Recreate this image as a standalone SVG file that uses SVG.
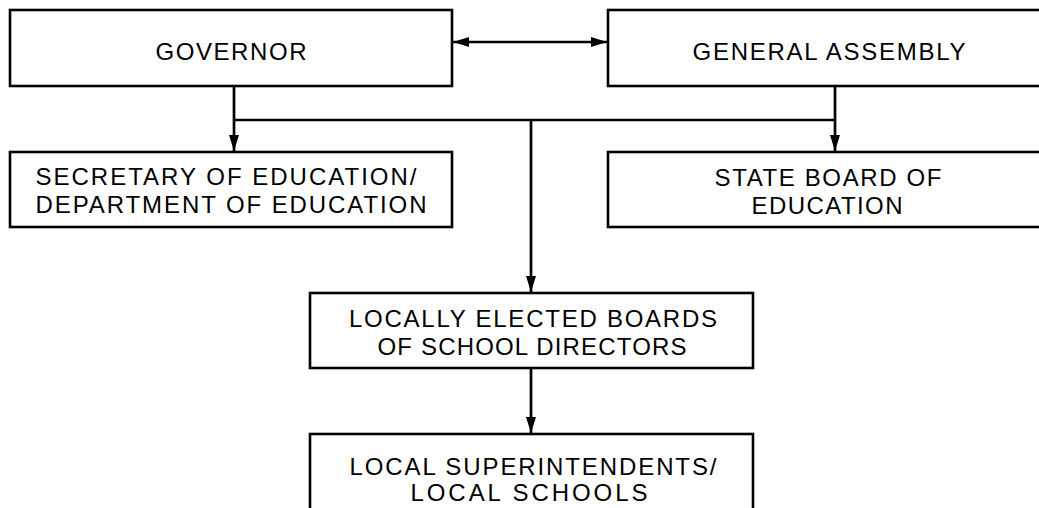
<svg xmlns="http://www.w3.org/2000/svg" width="1039" height="508" viewBox="0 0 1039 508">
<defs>
<marker id="ah" viewBox="0 0 16 10" refX="16" refY="5" markerWidth="16" markerHeight="10" markerUnits="userSpaceOnUse" orient="auto-start-reverse">
<path d="M0,0 L16,5 L0,10 Z" fill="#000"/>
</marker>
<style>
.box{fill:#fff;stroke:#000;stroke-width:2.6}
.t{font-family:"Liberation Sans",Arial,sans-serif;font-size:24px;fill:#000;text-anchor:middle}
.c{fill:none;stroke:#000;stroke-width:2.7}
</style>
</defs>
<rect width="1039" height="508" fill="#fff"/>
<g id="governor">
<rect class="box" x="10" y="10" width="442" height="76"/>
<text class="t" x="231" y="60" textLength="151" lengthAdjust="spacing">GOVERNOR</text>
</g>
<g id="general-assembly">
<rect class="box" x="608" y="10" width="440" height="76"/>
<text class="t" x="829" y="60" textLength="273" lengthAdjust="spacing">GENERAL ASSEMBLY</text>
</g>
<g id="secretary">
<rect class="box" x="10" y="152" width="442" height="75"/>
<text class="t" x="226" y="185" textLength="381" lengthAdjust="spacing">SECRETARY OF EDUCATION/</text>
<text class="t" x="231" y="213" textLength="391" lengthAdjust="spacing">DEPARTMENT OF EDUCATION</text>
</g>
<g id="state-board">
<rect class="box" x="608" y="152" width="440" height="75"/>
<text class="t" x="828" y="186" textLength="227" lengthAdjust="spacing">STATE BOARD OF</text>
<text class="t" x="827" y="214" textLength="151" lengthAdjust="spacing">EDUCATION</text>
</g>
<g id="local-boards">
<rect class="box" x="310" y="293" width="443" height="75"/>
<text class="t" x="533" y="327" textLength="368" lengthAdjust="spacing">LOCALLY ELECTED BOARDS</text>
<text class="t" x="532" y="355" textLength="309" lengthAdjust="spacing">OF SCHOOL DIRECTORS</text>
</g>
<g id="local-superintendents">
<rect class="box" x="310" y="434" width="443" height="90"/>
<text class="t" x="533" y="475" textLength="367" lengthAdjust="spacing">LOCAL SUPERINTENDENTS/</text>
<text class="t" x="529" y="501" textLength="237" lengthAdjust="spacing">LOCAL SCHOOLS</text>
</g>
<g id="connectors">
<line class="c" x1="453" y1="42" x2="607" y2="42" marker-start="url(#ah)" marker-end="url(#ah)"/>
<line class="c" x1="234" y1="86" x2="234" y2="151" marker-end="url(#ah)"/>
<line class="c" x1="835" y1="86" x2="835" y2="151" marker-end="url(#ah)"/>
<line class="c" x1="234" y1="120" x2="835" y2="120"/>
<line class="c" x1="531" y1="120" x2="531" y2="292" marker-end="url(#ah)"/>
<line class="c" x1="531" y1="368" x2="531" y2="433" marker-end="url(#ah)"/>
</g>
</svg>
